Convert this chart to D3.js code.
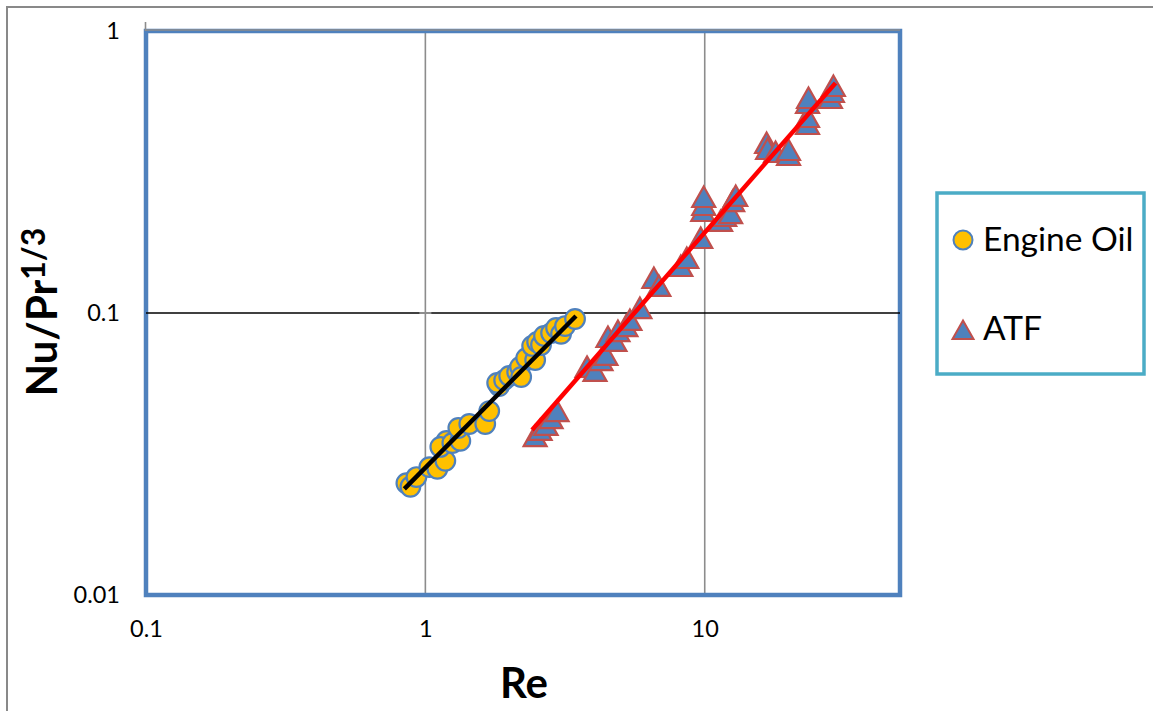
<!DOCTYPE html>
<html>
<head>
<meta charset="utf-8">
<script src="https://cdn.jsdelivr.net/npm/d3@7"></script>
<style>
  html, body { margin: 0; padding: 0; background: #fff; }
  svg { display: block; }
  text { font-family: Lato, "Liberation Sans", sans-serif; }
</style>
</head>
<body>
<svg id="chart" width="1153" height="711"></svg>
<script>
// ---- data ----
const xTicks = [0.1, 1, 10];
const yTicks = [0.01, 0.1, 1];

const oilRe = [0.855, 0.884, 0.929, 1.033, 1.104, 1.179, 1.189, 1.131, 1.249, 1.334, 1.312,
               1.436, 1.638, 1.693, 1.837, 1.807, 1.914, 1.995, 2.131, 2.183, 2.203, 2.295, 2.472,
               2.411, 2.512, 2.594, 2.659, 2.818, 2.937, 3.06, 3.162, 3.434];
const oilNu = [0.0249, 0.0242, 0.0262, 0.0284, 0.0280, 0.0299, 0.0352, 0.0335, 0.0346, 0.0352, 0.0391,
               0.0404, 0.0404, 0.0449, 0.0551, 0.0565, 0.0578, 0.0598, 0.0618, 0.0644, 0.0593, 0.0692, 0.0681,
               0.0764, 0.0789, 0.0770, 0.0829, 0.0849, 0.0885, 0.0843, 0.0899, 0.0952];

const atfRe = [2.471, 2.575, 2.705, 2.818, 2.961, 3.790, 4.048, 4.252, 4.430, 4.504,
               4.771, 4.890, 5.223, 5.397, 5.860, 6.576, 6.851, 8.210, 8.625, 9.676,
               9.837, 9.918, 9.918, 11.40, 11.79, 12.38, 12.59, 12.91, 16.65, 16.79,
               17.93, 19.95, 19.95, 23.33, 23.33, 23.33, 23.52, 28.18, 28.65, 28.88];
const atfNu = [0.0366, 0.0385, 0.0401, 0.0424, 0.0449, 0.0644, 0.0623, 0.0681, 0.0710, 0.0822,
               0.0796, 0.0863, 0.0899, 0.0945, 0.1041, 0.1331, 0.1247, 0.1468, 0.1567, 0.1845,
               0.2300, 0.2415, 0.2578, 0.2120, 0.2208, 0.2262, 0.2495, 0.2601, 0.4007, 0.3815,
               0.3723, 0.3633, 0.3784, 0.4680, 0.4955, 0.5554, 0.5786, 0.5786, 0.6077, 0.6383];

// power-law trendline end points
const oilTrendRe = [0.841, 3.46];
const oilTrendNu = [0.0238, 0.0976];
const atfTrendRe = [2.41, 29.4];
const atfTrendNu = [0.0385, 0.654];

const seriesNames = ["Engine Oil", "ATF"];

// ---- layout ----
const svg = d3.select("#chart");
const L = 146, R = 900, T = 31, B = 595;

const x = d3.scaleLog().domain([0.1, 50]).range([L, R]);
const y = d3.scaleLog().domain([0.01, 1]).range([B, T]);

const fmt = d => d3.format("~g")(d);

// outer chart border
svg.append("rect").attr("x", 7).attr("y", 7).attr("width", 1300).attr("height", 900)
  .attr("fill", "#fff").attr("stroke", "#898989").attr("stroke-width", 2);

// gridlines
const grid = svg.append("g");
grid.selectAll("line.vg").data(xTicks.slice(1)).join("line")
  .attr("x1", d => x(d)).attr("x2", d => x(d)).attr("y1", T).attr("y2", B)
  .attr("stroke", "#8c8c8c").attr("stroke-width", 1.6);

// plot area border
svg.append("rect").attr("x", L).attr("y", T).attr("width", R - L).attr("height", B - T)
  .attr("fill", "none").attr("stroke", "#4F81BD").attr("stroke-width", 4.5);

// top gridline (value 1) in grey over border
svg.append("line").attr("x1", L).attr("x2", R).attr("y1", y(1) - 1).attr("y2", y(1) - 1)
  .attr("stroke", "#8c8c8c").attr("stroke-width", 1.6);
// small tick above plot at left
svg.append("line").attr("x1", L - 0.5).attr("x2", L - 0.5).attr("y1", 22).attr("y2", T)
  .attr("stroke", "#8c8c8c").attr("stroke-width", 1.6);

// horizontal axis line at 0.1 (black)
svg.append("line").attr("x1", L).attr("x2", R).attr("y1", y(0.1)).attr("y2", y(0.1))
  .attr("stroke", "#000").attr("stroke-width", 1.4);
// cross tick on vertical axis at 1
svg.append("line").attr("x1", x(1) - 6).attr("x2", x(1) + 6).attr("y1", y(0.1)).attr("y2", y(0.1))
  .attr("stroke", "#8c8c8c").attr("stroke-width", 2);

// axes labels via d3 axes
const xAxis = d3.axisBottom(x).tickValues(xTicks).tickFormat(fmt).tickSize(0).tickPadding(25);
const gx = svg.append("g").attr("transform", `translate(0,${B})`).call(xAxis);
gx.select(".domain").remove();
gx.selectAll("text").attr("font-size", 23.5).attr("fill", "#000")
  .style("font-family", "Lato, 'Liberation Sans', sans-serif");

const yAxis = d3.axisLeft(y).tickValues(yTicks).tickFormat(fmt).tickSize(0).tickPadding(26);
const gy = svg.append("g").attr("transform", `translate(${L},0)`).call(yAxis);
gy.select(".domain").remove();
gy.selectAll("text").attr("font-size", 23.5).attr("fill", "#000")
  .style("font-family", "Lato, 'Liberation Sans', sans-serif");

// axis titles
svg.append("text").attr("x", 524).attr("y", 698).attr("text-anchor", "middle")
  .attr("font-size", 42).attr("font-weight", "bold").text("Re");

const yt = svg.append("text").attr("transform", "translate(57,312) rotate(-90)")
  .attr("text-anchor", "middle").attr("font-size", 42).attr("font-weight", "bold");
yt.append("tspan").text("Nu/Pr");
yt.append("tspan").attr("font-size", 32).attr("dy", -12).text("1/3");

// markers
const triPath = "M0,-10.5L11.5,10L-11.5,10Z";
const oil = oilRe.map((r, i) => ({ re: r, v: oilNu[i] }));
const atf = atfRe.map((r, i) => ({ re: r, v: atfNu[i] }));

svg.append("g").selectAll("circle").data(oil).join("circle")
  .attr("cx", d => x(d.re)).attr("cy", d => y(d.v)).attr("r", 9.8)
  .attr("fill", "#FFC000").attr("stroke", "#4F81BD").attr("stroke-width", 2.2);

svg.append("g").selectAll("path").data(atf).join("path")
  .attr("transform", d => `translate(${x(d.re)},${y(d.v)})`).attr("d", triPath)
  .attr("fill", "#4F81BD").attr("stroke", "#C0504D").attr("stroke-width", 2.2)
  .attr("stroke-linejoin", "miter");

// trendlines
const line = d3.line().x(d => x(d[0])).y(d => y(d[1]));
svg.append("path").attr("d", line(oilTrendRe.map((r, i) => [r, oilTrendNu[i]])))
  .attr("fill", "none").attr("stroke", "#000").attr("stroke-width", 4.5);
svg.append("path").attr("d", line(atfTrendRe.map((r, i) => [r, atfTrendNu[i]])))
  .attr("fill", "none").attr("stroke", "#FF0000").attr("stroke-width", 4.5);

// legend
const lg = svg.append("g");
lg.append("rect").attr("x", 937).attr("y", 193).attr("width", 207).attr("height", 181)
  .attr("fill", "#fff").attr("stroke", "#4BACC6").attr("stroke-width", 3.5);
lg.append("circle").attr("cx", 963).attr("cy", 240).attr("r", 9.5)
  .attr("fill", "#FFC000").attr("stroke", "#4F81BD").attr("stroke-width", 2);
lg.append("text").attr("x", 983).attr("y", 251).attr("font-size", 33.5).text(seriesNames[0]);
lg.append("path").attr("transform", "translate(963,330)").attr("d", "M0,-9.5L10.5,9L-10.5,9Z")
  .attr("fill", "#4F81BD").attr("stroke", "#C0504D").attr("stroke-width", 2);
lg.append("text").attr("x", 983).attr("y", 340).attr("font-size", 33.5).text(seriesNames[1]);
</script>
</body>
</html>
